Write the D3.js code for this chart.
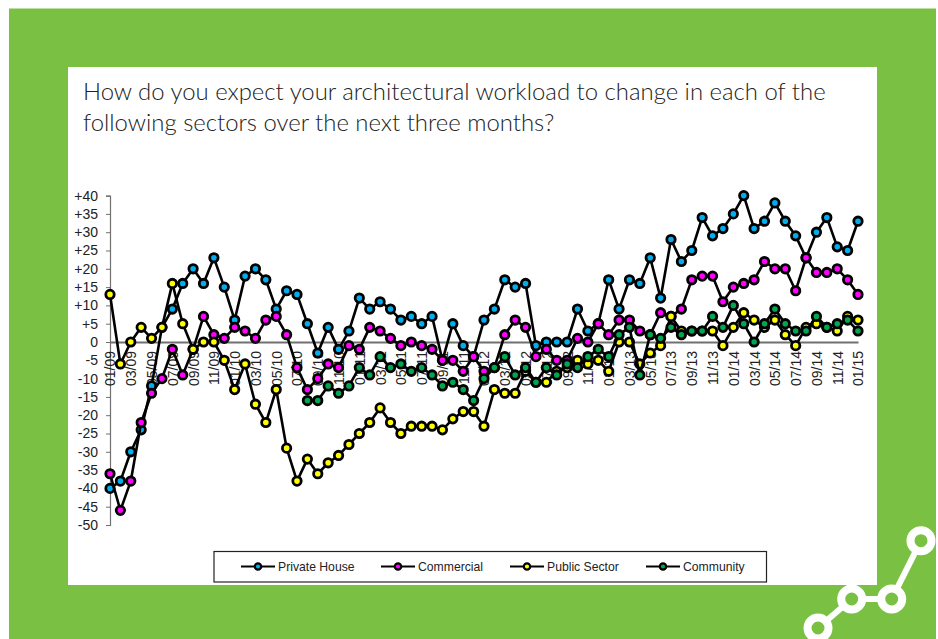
<!DOCTYPE html>
<html>
<head>
<meta charset="utf-8">
<script src="https://cdn.jsdelivr.net/npm/d3@7/dist/d3.min.js"></script>
<style>
html,body{margin:0;padding:0;background:#fff;}
svg{display:block;}
</style>
</head>
<body>
<svg id="chart" width="938" height="639"></svg>
<script>
const titleLines = ["How do you expect your architectural workload to change in each of the","following sectors over the next three months?"];
const tickValues = [-50,-45,-40,-35,-30,-25,-20,-15,-10,-5,0,5,10,15,20,25,30,35,40];
const years = ["09","10","11","12","13","14","15"];
const monthLabels = ["01","02","03","04","05","06","07","08","09","10","11","12"];

const privateHouse = [-40,-38,-30,-24,-12,4,9,16,20,16,23,15,6,18,20,17,9,14,13,5,-3,4,-2,3,12,9,11,9,6,7,5,7,-5,5,-1,-4,6,9,17,15,16,-1,0,0,0,9,3,5,17,9,17,16,23,12,28,22,25,34,29,31,35,40,31,33,38,33,29,23,30,34,26,25,33];
const commercial = [-36,-46,-38,-22,-14,-10,-2,-9,-2,7,2,1,4,3,1,6,7,2,-7,-13,-10,-6,-7,-1,-2,4,3,1,-1,0,-1,-2,-5,-5,-8,-4,-8,-7,2,6,4,-4,-2,-5,-5,1,0,5,2,6,6,3,2,8,7,9,17,18,18,11,15,16,17,22,20,20,14,23,19,19,20,17,13];
const publicSector = [13,-6,0,4,1,4,16,5,-2,0,0,-5,-13,-6,-17,-22,-13,-29,-38,-32,-36,-33,-31,-28,-25,-22,-18,-22,-25,-23,-23,-23,-24,-21,-19,-19,-23,-13,-14,-14,-8,-11,-11,-8,-7,-5,-6,-5,-8,0,0,-6,-3,-1,7,3,3,3,3,-1,4,8,6,4,6,2,-1,4,5,4,3,7,6];
const community = [null,null,null,null,null,null,null,null,null,null,null,null,null,null,null,null,null,null,null,-16,-16,-12,-14,-12,-7,-9,-4,-7,-6,-8,-7,-9,-12,-11,-13,-16,-10,-7,-4,-9,-7,-11,-7,-9,-6,-7,-4,-2,-4,2,4,-9,2,1,4,2,3,3,7,4,10,5,0,5,9,5,3,3,7,4,5,6,3];

const seriesNames = ["Private House","Commercial","Public Sector","Community"];
const seriesColors = ["#00aeef","#ff00ff","#ffff00","#00a651"];
const seriesValues = [privateHouse,commercial,publicSector,community];

const categories = [];
years.forEach(y => monthLabels.forEach(m => { if (categories.length < 73) categories.push(m + "/" + y); }));

const svg = d3.select("#chart");
const font = "'Liberation Sans', Arial, sans-serif";

svg.append("rect").attr("x",9).attr("y",8.5).attr("width",927).attr("height",630.5).attr("fill","#7ac143");
svg.append("rect").attr("x",68).attr("y",67).attr("width",809).attr("height",518).attr("fill","#fff");

const title = svg.append("text").attr("font-family","Lato, sans-serif").attr("font-weight",300)
  .attr("font-size",23.9).attr("fill","#222");
titleLines.forEach((t,i) => title.append("tspan").attr("x",83).attr("y",100 + i*31).text(t));

const x = d3.scalePoint().domain(categories).range([110,858]);
const y = d3.scaleLinear().domain([-50,40]).range([525,195.6]);

const axisColor = "#707070";
const yAxis = d3.axisLeft(y).tickValues(tickValues).tickSize(4).tickPadding(8)
  .tickFormat(d => d > 0 ? "+" + d : String(d));
const yg = svg.append("g").attr("transform","translate(110,0)").call(yAxis);
yg.select(".domain").attr("stroke",axisColor).attr("stroke-width",1.2);
yg.selectAll(".tick line").attr("stroke",axisColor);
yg.selectAll(".tick text").attr("font-family",font).attr("font-size",14).attr("fill","#222");

const xTicks = categories.filter((d,i) => i % 2 === 0);
const xAxis = d3.axisBottom(x).tickValues(xTicks).tickSize(0).tickPadding(2);
const xg = svg.append("g").attr("transform",`translate(0,${y(0)})`).call(xAxis);
xg.select(".domain").attr("stroke",axisColor).attr("stroke-width",1.8);
xg.selectAll(".tick text").attr("font-family",font).attr("font-size",14).attr("fill","#222")
  .attr("text-anchor","end").attr("transform","rotate(-90)").attr("x",-9).attr("y",0).attr("dy","0.35em");

const line = d3.line().defined(d => d.v !== null).x(d => x(d.c)).y(d => y(d.v));
seriesValues.forEach((vals,k) => {
  const pts = vals.map((v,i) => ({v, c: categories[i]})).filter(d => d.v !== null);
  const g = svg.append("g").attr("class","series");
  g.append("path").datum(pts).attr("d",line).attr("fill","none").attr("stroke","#000").attr("stroke-width",2.6).attr("stroke-linejoin","round");
  g.selectAll("circle").data(pts).join("circle")
    .attr("cx",d => x(d.c)).attr("cy",d => y(d.v)).attr("r",4.2)
    .attr("fill",seriesColors[k]).attr("stroke","#000").attr("stroke-width",2.8);
});

svg.append("rect").attr("x",214).attr("y",551.5).attr("width",552.5).attr("height",30.5).attr("fill","#fff").attr("stroke","#222").attr("stroke-width",1.2);
const legendX = [241,381,510,646];
seriesNames.forEach((n,k) => {
  const g = svg.append("g").attr("transform",`translate(${legendX[k]},566.5)`);
  g.append("line").attr("x1",0).attr("x2",34).attr("stroke","#000").attr("stroke-width",2.2);
  g.append("circle").attr("cx",17).attr("r",3.2).attr("fill",seriesColors[k]).attr("stroke","#000").attr("stroke-width",2.2);
  g.append("text").attr("x",37).attr("y",4.5).attr("font-family",font).attr("font-size",12.2).attr("fill","#222").text(n);
});

const iconPts = [[818,628],[851.7,599],[891.7,599],[921,540.7]];
svg.append("path").attr("d",d3.line()(iconPts)).attr("fill","none").attr("stroke","#fff").attr("stroke-width",6);
svg.selectAll("circle.icon").data(iconPts).join("circle").attr("class","icon")
  .attr("cx",d=>d[0]).attr("cy",d=>d[1]).attr("r",10.5).attr("fill","#7ac143").attr("stroke","#fff").attr("stroke-width",8);
</script>
</body>
</html>
